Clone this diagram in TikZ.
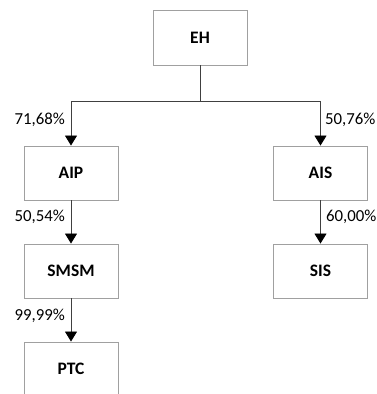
\documentclass[tikz,border=0pt]{standalone}
\usepackage{fontspec}
\setmainfont{Carlito}
\usetikzlibrary{arrows.meta}
\definecolor{boxgray}{HTML}{A0A0A0}
\definecolor{linegray}{HTML}{404040}
\tikzset{
  orgbox/.style={draw=boxgray, line width=0.9pt, minimum width=94pt, minimum height=54pt, inner sep=0pt, font=\fontsize{17.5}{20}\selectfont\bfseries},
  conn/.style={draw=linegray, line width=0.9pt},
  arr/.style={conn, -{Triangle[width=12pt,length=10pt,color=black]}},
  pct/.style={font=\fontsize{16.8}{19}\selectfont, inner sep=0pt}
}
\begin{document}
\begin{tikzpicture}[x=1pt,y=1pt]
\useasboundingbox (0,0) rectangle (376,394);
\node[orgbox, minimum height=55pt] (EH) at (200,356.5) {EH};
\node[orgbox] (AIP) at (71,221) {AIP};
\node[orgbox] (AIS) at (320.5,221) {AIS};
\node[orgbox] (SMSM) at (71,123) {SMSM};
\node[orgbox] (SIS) at (320.5,123) {SIS};
\node[orgbox] (PTC) at (71,25) {PTC};
\coordinate (j) at (200,292.3);
\draw[conn] (EH.south) -- (j);
\draw[arr] (j) -| (AIP.north);
\draw[arr] (j) -| (AIS.north);
\draw[arr] (AIP.south) -- (SMSM.north);
\draw[arr] (AIS.south) -- (SIS.north);
\draw[arr] (SMSM.south) -- (PTC.north);
\node[pct, anchor=east] (l1) at (65,274) {71,68\%};
\node[pct, anchor=west] (l2) at (325,274) {50,76\%};
\node[pct, anchor=east] (l3) at (65,177) {50,54\%};
\node[pct, anchor=west] (l4) at (326,177) {60,00\%};
\node[pct, anchor=east] (l5) at (65,78) {99,99\%};
\end{tikzpicture}
\end{document}
